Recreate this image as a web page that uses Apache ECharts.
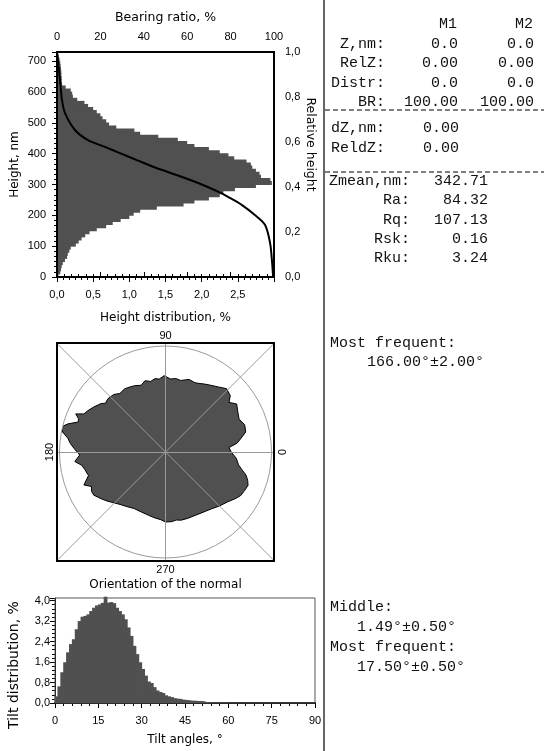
<!DOCTYPE html>
<html>
<head>
<meta charset="utf-8">
<script src="https://cdn.jsdelivr.net/npm/echarts@6.0.0/dist/echarts.min.js"></script>
<style>html,body{margin:0;padding:0;background:#fff;}#chart{width:544px;height:751px;}</style>
</head>
<body>
<div id="chart"></div>
<script>
// ---------- data ----------
const heightBins = [5,15,25,35,45,55,65,75,85,95,105,115,125,135,145,155,165,175,185,195,205,215,225,235,245,255,265,275,285,295,305,315,325,335,345,355,365,375,385,395,405,415,425,435,445,455,465,475,485,495,505,515,525,535,545,555,565,575,585,595,605,615,625,635,645,655,665,675,685,695,705,715,725];
const heightDistribution = [0.02,0.045,0.055,0.065,0.08,0.11,0.14,0.15,0.17,0.19,
 0.26,0.30,0.34,0.39,0.45,0.55,0.68,0.77,0.88,1.00,
 1.06,1.15,1.38,1.75,1.90,2.10,2.25,2.30,2.46,2.75,
 2.97,2.95,2.82,2.80,2.75,2.70,2.68,2.62,2.45,2.37,
 2.25,2.10,1.90,1.80,1.67,1.40,1.15,1.07,0.82,0.72,
 0.68,0.63,0.60,0.55,0.50,0.43,0.38,0.28,0.22,0.21,
 0.19,0.12,0.07,0.065,0.065,0.06,0.06,0.055,0.05,0.045,
 0.035,0.025,0.015];
const bearingHeight = [730,715,697,639,574,532,477,444,422,402,380,370,353,347,309,277,260,234,201,169,110,49,0];
const bearingRatio  = [0,0.2,0.5,1.4,2.3,3.7,8.3,14.3,22.1,29,36.5,40,46,48.5,63.6,74.2,78.8,85.1,91.2,95.9,98.2,99.1,99.6];

const orientationAngle = [0,4,7,10,14,19,24,29,34,38,41,46,51,56,60,64,67,72,78,82,86,91,95,98,102,106,110,115,119,123,128,132,137,141,143,148,152,155,157,159,161,164,166,169,172,175,178,182,186,189,192,197,200,202,205,208,211,216,220,225,230,235,241,248,256,261,266,270,275,279,283,289,295,302,309,315,321,326,330,334,338,341,344,347,350,355,360];
const orientationRadius = [0.62,0.60,0.68,0.72,0.78,0.79,0.76,0.78,0.81,0.76,0.81,0.83,0.79,0.76,0.74,0.72,0.71,0.72,0.69,0.70,0.69,0.72,0.69,0.70,0.68,0.70,0.67,0.69,0.70,0.71,0.70,0.73,0.74,0.73,0.76,0.80,0.83,0.85,0.92,0.88,0.87,0.96,1.00,0.99,0.93,0.90,0.86,0.81,0.86,0.80,0.78,0.76,0.80,0.83,0.77,0.79,0.79,0.75,0.72,0.68,0.65,0.63,0.61,0.61,0.62,0.63,0.64,0.66,0.66,0.65,0.66,0.66,0.66,0.67,0.69,0.72,0.75,0.79,0.82,0.83,0.84,0.82,0.79,0.74,0.70,0.67,0.62];

const tiltBins = [0,1,2,3,4,5,6,7,8,9,10,11,12,13,14,15,16,17,18,19,20,21,22,23,24,25,26,27,28,29,30,31,32,33,34,35,36,37,38,39,40,41,42,43,44,45,46,47,48,49,50,51,52,53,54,55,56,57,58,59,60,61,62,63,64,65,66,67,68,69,70,71,72,73,74,75,76,77,78,79,80,81,82,83,84,85,86,87,88,89];
const tiltDistribution = [0.26,0.65,1.20,1.59,1.98,2.30,2.49,2.88,3.20,3.37,
 3.40,3.46,3.59,3.72,3.81,3.85,3.91,4.15,3.92,3.94,
 3.90,3.72,3.59,3.46,3.27,2.95,2.62,2.23,1.91,1.59,
 1.33,1.07,0.84,0.78,0.62,0.49,0.43,0.39,0.30,0.26,
 0.23,0.19,0.17,0.16,0.13,0.12,0.11,0.09,0.09,0.08,
 0.08,0.07,0.04,0.03,0.03,0.02,0.02,0.02,0.02,0.02,
 0.01,0.01,0.01,0.01,0.01,0.01,0.01,0.01,0.01,0.01,
 0.01,0.01,0.01,0.01,0.01,0.01,0.01,0.01,0.01,0.01,
 0.01,0.01,0.01,0.01,0.01,0.01,0.01,0.01,0.01,0.01];

const markerHeader = ['M1','M2'];
const markerLabels = ['Z,nm:','RelZ:','Distr:','BR:'];
const markerM1 = ['0.0','0.00','0.0','100.00'];
const markerM2 = ['0.0','0.00','0.0','100.00'];
const diffLabels = ['dZ,nm:','ReldZ:'];
const diffValues = ['0.00','0.00'];
const statLabels = ['Zmean,nm:','Ra:','Rq:','Rsk:','Rku:'];
const statValues = ['342.71','84.32','107.13','0.16','3.24'];
const orientationText = ['Most frequent:','166.00°±2.00°'];
const tiltText = ['Middle:','1.49°±0.50°','Most frequent:','17.50°±0.50°'];

// ---------- chart ----------
const chart = echarts.init(document.getElementById('chart'));
const comma = v => v.toFixed(1).replace('.', ',');
const tickFont = {fontFamily:'Liberation Sans', fontSize:11, color:'#000'};
const nameFont = {fontFamily:'DejaVu Sans', fontSize:12, color:'#000'};
const monoFont = {fontFamily:'Liberation Mono', fontSize:15};
const blk = {color:'#000', width:1};
const gridLine = {color:'#9a9a9a', width:1};
const fillGray = '#505050';

const graphic = [
  {type:'line', shape:{x1:324,y1:0,x2:324,y2:751}, style:{stroke:'#333', lineWidth:1.5}},
  {type:'line', shape:{x1:325,y1:110,x2:544,y2:110}, style:{stroke:'#000', lineWidth:1, lineDash:[5,3]}},
  {type:'line', shape:{x1:325,y1:172,x2:544,y2:172}, style:{stroke:'#000', lineWidth:1, lineDash:[5,3]}}
];
function txt(t, x, y, align){
  graphic.push({type:'text', x:x, y:y, style:{text:t, fontFamily:monoFont.fontFamily, fontSize:monoFont.fontSize, fill:'#111', align:align, verticalAlign:'middle', textAlign:align, textVerticalAlign:'middle'}});
}
txt(markerHeader[0], 457, 24, 'right');
txt(markerHeader[1], 533, 24, 'right');
const rowsA = [44,63,83,102];
markerLabels.forEach((l,i)=>{ txt(l,385,rowsA[i],'right'); txt(markerM1[i],458,rowsA[i],'right'); txt(markerM2[i],534,rowsA[i],'right'); });
const rowsB = [128,148];
diffLabels.forEach((l,i)=>{ txt(l,385,rowsB[i],'right'); txt(diffValues[i],459,rowsB[i],'right'); });
const rowsC = [181,200,220,239,258];
statLabels.forEach((l,i)=>{ txt(l,410,rowsC[i],'right'); txt(statValues[i],488,rowsC[i],'right'); });
txt(orientationText[0],330,343,'left');
txt(orientationText[1],367,362,'left');
txt(tiltText[0],330,607,'left');
txt(tiltText[1],357,627,'left');
txt(tiltText[2],330,647,'left');
txt(tiltText[3],357,667,'left');

const option = {
  animation:false,
  backgroundColor:'#fff',
  textStyle:{fontFamily:'DejaVu Sans'},
  graphic: graphic,
  grid:[
    {left:57, top:52, width:217, height:225, show:true, borderColor:'#000', borderWidth:2, backgroundColor:'rgba(0,0,0,0)', z:5},
    {left:57, top:343, width:217, height:218, show:true, borderColor:'#000', borderWidth:2, backgroundColor:'rgba(0,0,0,0)', z:5},
    {left:55, top:598, width:260, height:105, show:true, borderColor:'#555', borderWidth:1, backgroundColor:'rgba(0,0,0,0)', z:5}
  ],
  polar:[
    {center:[165.5,452], radius:106},
    {center:[165.5,452], radius:153}
  ],
  angleAxis:[
    {polarIndex:0, type:'value', min:0, max:360, startAngle:0, clockwise:false, z:4,
     axisLine:{show:true, lineStyle:gridLine}, axisTick:{show:false}, axisLabel:{show:false}, splitLine:{show:false}},
    {polarIndex:1, type:'value', min:0, max:360, interval:90, startAngle:45, clockwise:false, z:4,
     axisLine:{show:false}, axisTick:{show:false}, axisLabel:{show:false}, splitLine:{show:true, lineStyle:gridLine}}
  ],
  radiusAxis:[
    {polarIndex:0, type:'value', min:0, max:1, axisLine:{show:false}, axisTick:{show:false}, axisLabel:{show:false}, splitLine:{show:false}},
    {polarIndex:1, type:'value', min:0, max:1, axisLine:{show:false}, axisTick:{show:false}, axisLabel:{show:false}, splitLine:{show:false}}
  ],
  xAxis:[
    {gridIndex:0, type:'value', position:'bottom', min:0, max:3, interval:0.5,
     axisLine:{show:true, lineStyle:{color:'#000', width:2}},
     axisTick:{show:true, length:5, lineStyle:blk}, minorTick:{show:true, splitNumber:6, length:3, lineStyle:blk},
     splitLine:{show:false},
     axisLabel:{...tickFont, margin:12, formatter:v => v > 2.9 ? '' : comma(v)},
     name:'Height distribution, %', nameLocation:'middle', nameGap:35, nameTextStyle:nameFont},
    {gridIndex:0, type:'value', position:'top', min:0, max:100, interval:20,
     axisLine:{show:true, lineStyle:{color:'#000', width:2}},
     axisTick:{show:true, length:5, lineStyle:blk}, minorTick:{show:true, splitNumber:6, length:3, lineStyle:blk},
     splitLine:{show:false},
     axisLabel:{...tickFont, margin:10},
     name:'Bearing ratio, %', nameLocation:'middle', nameGap:28, nameTextStyle:{...nameFont, fontSize:12.5}},
    {gridIndex:1, type:'value', position:'bottom', min:-1, max:1, interval:1, z:4,
     axisLine:{show:false}, axisTick:{show:false}, axisLabel:{show:false},
     splitLine:{show:true, lineStyle:gridLine},
     name:'{a|270}\n{b|Orientation of the normal}', nameLocation:'middle', nameGap:2,
     nameTextStyle:{rich:{a:{fontFamily:'Liberation Sans', fontSize:11, lineHeight:14, color:'#000'}, b:{fontFamily:'DejaVu Sans', fontSize:12, lineHeight:16, color:'#000'}}}},
    {gridIndex:1, type:'value', position:'top', min:-1, max:1, interval:1,
     axisLine:{show:false}, axisTick:{show:false}, axisLabel:{show:false}, splitLine:{show:false},
     name:'90', nameLocation:'middle', nameGap:2, nameTextStyle:tickFont},
    {gridIndex:2, type:'category', position:'bottom', data:tiltBins, show:false, boundaryGap:true},
    {gridIndex:2, type:'value', position:'bottom', min:0, max:90, interval:15,
     axisLine:{show:true, lineStyle:{color:'#000', width:2}},
     axisTick:{show:true, length:5, lineStyle:blk}, minorTick:{show:true, splitNumber:5, length:3, lineStyle:blk},
     splitLine:{show:false},
     axisLabel:{...tickFont, margin:12},
     name:'Tilt angles, °', nameLocation:'middle', nameGap:31, nameTextStyle:nameFont}
  ],
  yAxis:[
    {gridIndex:0, type:'value', position:'left', min:0, max:730, interval:100,
     axisLine:{show:true, lineStyle:{color:'#000', width:2}},
     axisTick:{show:true, length:5, lineStyle:blk}, minorTick:{show:true, splitNumber:6, length:3, lineStyle:blk},
     splitLine:{show:false},
     axisLabel:{...tickFont, margin:11, formatter:v => (v % 100 === 0) ? String(v) : ''},
     name:'Height, nm', nameLocation:'middle', nameGap:36, nameTextStyle:nameFont},
    {gridIndex:0, type:'value', position:'right', min:0, max:1, interval:0.2,
     axisLine:{show:true, lineStyle:{color:'#000', width:2}},
     axisTick:{show:true, length:5, lineStyle:blk}, minorTick:{show:true, splitNumber:5, length:3, lineStyle:blk},
     splitLine:{show:false},
     axisLabel:{...tickFont, margin:11, formatter:v => comma(v)},
     name:'Relative height', nameLocation:'middle', nameGap:27, nameRotate:-90,
     nameTextStyle:{...nameFont, fontSize:12.5, padding:[0,40,0,0]}},
    {gridIndex:0, type:'category', position:'left', data:heightBins, show:false, boundaryGap:true},
    {gridIndex:1, type:'value', position:'left', min:-1, max:1, interval:1, z:4,
     axisLine:{show:false}, axisTick:{show:false}, axisLabel:{show:false},
     splitLine:{show:true, lineStyle:gridLine},
     name:'180', nameLocation:'middle', nameGap:2, nameTextStyle:tickFont},
    {gridIndex:1, type:'value', position:'right', min:-1, max:1, interval:1,
     axisLine:{show:false}, axisTick:{show:false}, axisLabel:{show:false}, splitLine:{show:false},
     name:'0', nameLocation:'middle', nameGap:2, nameRotate:-90, nameTextStyle:tickFont},
    {gridIndex:2, type:'value', position:'left', min:0, max:4.1, interval:0.8,
     axisLine:{show:true, lineStyle:{color:'#000', width:1}},
     axisTick:{show:true, length:5, lineStyle:blk}, minorTick:{show:true, splitNumber:5, length:3, lineStyle:blk},
     splitLine:{show:false},
     axisLabel:{...tickFont, margin:5, formatter:v => v > 4.05 ? '' : comma(v)},
     name:'Tilt distribution, %', nameLocation:'middle', nameGap:34,
     nameTextStyle:{...nameFont, fontSize:14, padding:[0,29,0,0]}}
  ],
  series:[
    {type:'bar', xAxisIndex:0, yAxisIndex:2, data:heightDistribution, barWidth:4,
     itemStyle:{color:fillGray}, z:2},
    {type:'line', xAxisIndex:1, yAxisIndex:0, data:bearingRatio.map((b,i)=>[b, bearingHeight[i]]),
     smooth:0.3, symbol:'none', lineStyle:{color:'#000', width:2}, z:3},
    {type:'line', coordinateSystem:'polar', polarIndex:0,
     data:orientationRadius.map((r,i)=>[r, orientationAngle[i]]),
     symbol:'none', lineStyle:{color:'#000', width:1}, areaStyle:{color:fillGray, opacity:1}, z:1},
    {type:'bar', xAxisIndex:4, yAxisIndex:5, data:tiltDistribution, barWidth:3.8, clip:false,
     itemStyle:{color:fillGray}, z:2}
  ]
};
chart.setOption(option);
</script>
</body>
</html>
